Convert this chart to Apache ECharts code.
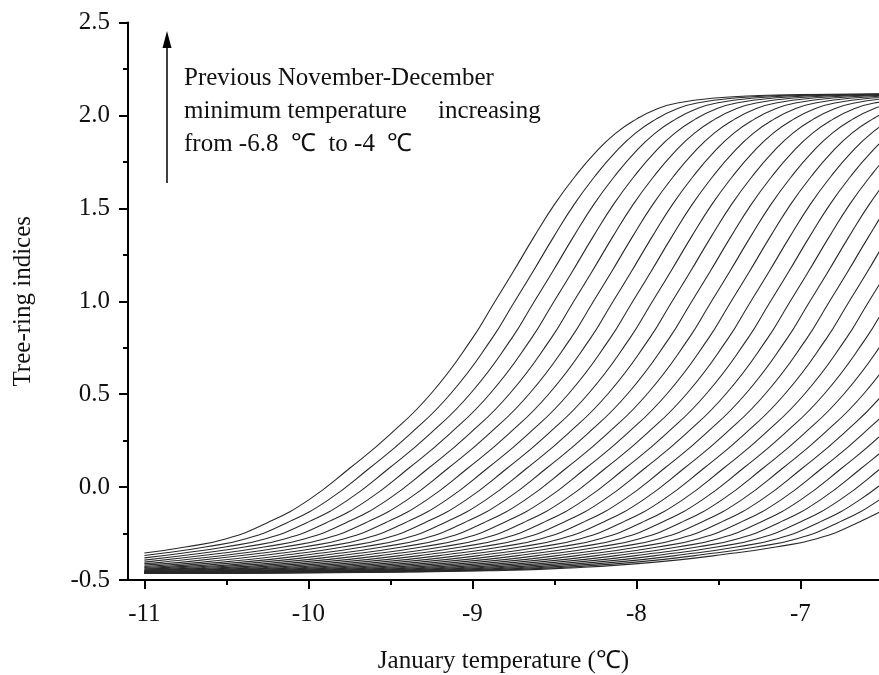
<!DOCTYPE html>
<html>
<head>
<meta charset="utf-8">
<script src="https://cdn.jsdelivr.net/npm/echarts@6/dist/echarts.min.js"></script>
<style>html,body{margin:0;padding:0;background:#fff;}#c{width:879px;height:675px;}</style>
</head>
<body>
<div id="c"></div>
<script>
// x tick labels (January temperature, °C)
const xTicks = [-11, -10, -9, -8, -7];
const xMinorTicks = [-10.5, -9.5, -8.5, -7.5];
// shape of the leftmost curve
const profileX = [-15, -14.5, -14, -13.5, -13, -12.5, -12, -11.5, -11, -10.75, -10.5, -10.25, -10, -9.75, -9.5, -9.25, -9, -8.875, -8.75, -8.625, -8.5, -8.375, -8.25, -8.125, -8, -7.875, -7.75, -7.5, -7.25, -7, -6.5, -6];
const profileY = [-0.465, -0.464, -0.463, -0.461, -0.457, -0.450, -0.435, -0.405, -0.355, -0.322, -0.278, -0.192, -0.070, 0.100, 0.285, 0.505, 0.800, 0.980, 1.160, 1.345, 1.520, 1.670, 1.800, 1.905, 1.980, 2.035, 2.067, 2.095, 2.107, 2.112, 2.115, 2.116];
// horizontal position of each curve relative to the leftmost one
const curveShift = [0, 0.12, 0.24, 0.36, 0.48, 0.60, 0.72, 0.84, 0.96, 1.08, 1.20, 1.32, 1.44, 1.56, 1.68, 1.80, 1.92, 2.04, 2.16, 2.28, 2.40, 2.52, 2.64, 2.76, 2.88, 3.00, 3.12, 3.24, 3.36, 3.48, 3.60];
// value of each curve at x = -11
const startValues = [-0.355, -0.368, -0.381, -0.393, -0.404, -0.412, -0.420, -0.427, -0.433, -0.437, -0.441, -0.445, -0.448, -0.451, -0.453, -0.455, -0.456, -0.457, -0.458, -0.459, -0.460, -0.461, -0.461, -0.462, -0.462, -0.463, -0.463, -0.463, -0.464, -0.464, -0.464];

const FONT = "'Liberation Serif','Times New Roman',serif";

const series = curveShift.map((s, i) => {
  const pts = [[-11, startValues[i]]];
  profileX.forEach((x, j) => {
    const xx = +(x + s).toFixed(3);
    if (xx > -10.97) pts.push([xx, profileY[j]]);
  });
  return {
    type: 'line', data: pts, xAxisIndex: 0, yAxisIndex: 0,
    showSymbol: false, smooth: 0.5,
    lineStyle: { color: '#2a2a2a', width: 1.1 },
    silent: true, animation: false, clip: true
  };
});

const chart = echarts.init(document.getElementById('c'), null, { renderer: 'canvas' });
chart.setOption({
  backgroundColor: '#fff',
  animation: false,
  grid: { left: 128, top: 22.5, right: 0, bottom: 95, containLabel: false, outerBoundsMode: 'none' },
  xAxis: [{
    type: 'value', min: -11.1, max: -6.52,
    splitLine: { show: false },
    axisLine: { show: true, onZero: false, lineStyle: { color: '#000', width: 2 } },
    axisTick: { show: true, customValues: xTicks, length: 9, lineStyle: { color: '#000', width: 2 } },
    axisLabel: { customValues: xTicks, margin: 22, fontSize: 25, fontFamily: FONT, color: '#111' },
    name: 'January temperature (\u2103)', nameLocation: 'middle', nameGap: 69,
    nameTextStyle: { fontSize: 25, fontFamily: FONT, color: '#111' }
  }, {
    type: 'value', min: -11.1, max: -6.52, position: 'bottom',
    splitLine: { show: false },
    axisLine: { show: false, onZero: false },
    axisTick: { show: true, customValues: xMinorTicks, length: 5, lineStyle: { color: '#000', width: 2 } },
    axisLabel: { show: false }
  }],
  yAxis: [{
    type: 'value', min: -0.5, max: 2.5, interval: 0.5,
    splitLine: { show: false },
    axisLine: { show: true, onZero: false, lineStyle: { color: '#000', width: 2 } },
    axisTick: { show: true, length: 9, lineStyle: { color: '#000', width: 2 } },
    minorTick: { show: true, splitNumber: 2, length: 5, lineStyle: { color: '#000', width: 2 } },
    axisLabel: { margin: 18, fontSize: 25, fontFamily: FONT, color: '#111', formatter: v => v.toFixed(1) },
    name: 'Tree-ring indices', nameLocation: 'middle', nameGap: 92,
    nameTextStyle: { fontSize: 25, fontFamily: FONT, color: '#111' }
  }],
  series: series,
  graphic: [
    { type: 'line', shape: { x1: 167, y1: 183, x2: 167, y2: 44 }, style: { stroke: '#000', lineWidth: 1.5 }, silent: true },
    { type: 'polygon', shape: { points: [[167, 31], [162.5, 48], [171.5, 48]] }, style: { fill: '#000' }, silent: true },
    { type: 'text', left: 184, top: 66, style: { text: 'Previous November-December', font: '25px ' + FONT, fill: '#111' } },
    { type: 'text', left: 184, top: 99, style: { text: 'minimum temperature', font: '25px ' + FONT, fill: '#111' } },
    { type: 'text', left: 438, top: 99, style: { text: 'increasing', font: '25px ' + FONT, fill: '#111' } },
    { type: 'text', left: 184, top: 132, style: { text: 'from -6.8  \u2103  to -4  \u2103', font: '25px ' + FONT, fill: '#111' } }
  ]
});
</script>
</body>
</html>
